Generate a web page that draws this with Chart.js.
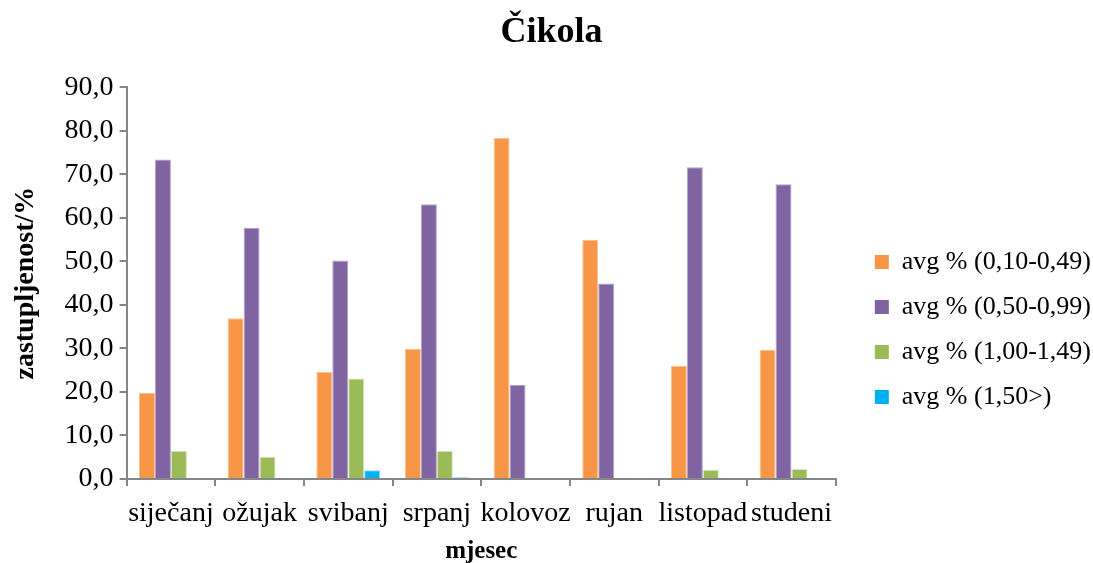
<!DOCTYPE html>
<html>
<head>
<meta charset="utf-8">
<script src="https://cdn.jsdelivr.net/npm/chart.js@4/dist/chart.umd.min.js"></script>
<style>
    html, body { margin: 0; padding: 0; background: #fff; }
    #wrap { width: 1093px; height: 563px; }
</style>
</head>
<body>
<div id="wrap"><canvas id="chartCikola"></canvas></div>
<script>
const mjeseci = ['siječanj', 'ožujak', 'svibanj', 'srpanj', 'kolovoz', 'rujan', 'listopad', 'studeni'];
const avg010_049 = [19.8, 36.9, 24.6, 29.9, 78.4, 54.9, 26.0, 29.7];
const avg050_099 = [73.4, 57.7, 50.2, 63.1, 21.6, 44.9, 71.6, 67.7];
const avg100_149 = [6.5, 5.1, 23.1, 6.5, 0, 0, 2.1, 2.3];
const avg150 = [0, 0, 2.0, 0.4, 0, 0, 0, 0];
const yTicks = [0, 10, 20, 30, 40, 50, 60, 70, 80, 90];

const font = 'Liberation Serif, Times New Roman, serif';
const gray = '#868686';

// push the legend a bit away from the plot area
const legendGap = {
    id: 'legendGap',
    afterLayout: function (chart) {
        const lg = chart.legend;
        if (!lg) return;
        const shift = chart.chartArea.right + 20 - lg.left;
        lg.left += shift;
        lg.right += shift;
    }
};

window.onload = function () {
    const ctx = document.getElementById('chartCikola').getContext('2d');
    new Chart(ctx, {
        type: 'bar',
        data: {
            labels: mjeseci,
            datasets: [
                { label: 'avg % (0,10-0,49)', data: avg010_049, backgroundColor: '#F79646', borderColor: '#FAC090', borderWidth: 1 },
                { label: 'avg % (0,50-0,99)', data: avg050_099, backgroundColor: '#8064A2', borderColor: '#B3A2C7', borderWidth: 1 },
                { label: 'avg % (1,00-1,49)', data: avg100_149, backgroundColor: '#9BBB59', borderColor: '#D7E4BD', borderWidth: 1 },
                { label: 'avg % (1,50>)', data: avg150, backgroundColor: '#00B0F0', borderColor: '#8FDCF8', borderWidth: 1 }
            ]
        },
        plugins: [legendGap],
        options: {
            responsive: true,
            maintainAspectRatio: false,
            animation: false,
            categoryPercentage: 0.72,
            barPercentage: 1.0,
            layout: { padding: { left: 4, right: 12, top: 0, bottom: 0 } },
            plugins: {
                title: {
                    display: true,
                    text: '  Čikola',
                    color: '#000',
                    font: { family: font, size: 36, weight: 'bold' },
                    padding: { top: 11, bottom: 33 }
                },
                legend: {
                    position: 'right',
                    align: 'center',
                    title: { display: true, text: ' ', font: { size: 20 }, padding: 36 },
                    labels: {
                        color: '#000',
                        font: { family: font, size: 26 },
                        boxWidth: 14,
                        boxHeight: 14,
                        padding: 19,
                        generateLabels: function (chart) {
                            return chart.data.datasets.map(function (ds, i) {
                                return { text: ds.label, fillStyle: ds.backgroundColor, strokeStyle: ds.backgroundColor, fontColor: '#000', lineWidth: 0, datasetIndex: i };
                            });
                        }
                    }
                },
                tooltip: { enabled: false }
            },
            scales: {
                x: {
                    afterFit: function (axis) { axis.height = 84; },
                    grid: { display: true, drawOnChartArea: false, drawTicks: true, tickLength: 7, color: gray, lineWidth: 2 },
                    border: { display: true, color: gray, width: 2 },
                    ticks: { color: '#000', font: { family: font, size: 28 }, padding: 11, maxRotation: 0, autoSkip: false },
                    title: { display: true, text: 'mjesec', color: '#000', font: { family: font, size: 25, weight: 'bold' }, padding: { top: 0, bottom: -4 } }
                },
                y: {
                    min: 0,
                    max: 90,
                    afterBuildTicks: function (axis) {
                        axis.ticks = yTicks.map(function (v) { return { value: v }; });
                    },
                    grid: { display: true, drawOnChartArea: false, drawTicks: true, tickLength: 7, color: gray, lineWidth: 2 },
                    border: { display: true, color: gray, width: 2 },
                    ticks: {
                        color: '#000',
                        font: { family: font, size: 28 },
                        padding: 6,
                        callback: function (v) { return v.toFixed(1).replace('.', ','); }
                    },
                    title: { display: true, text: 'zastupljenost/%', color: '#000', font: { family: font, size: 28, weight: 'bold' }, padding: { top: 5, bottom: 16 } }
                }
            }
        }
    });
}
</script>
</body>
</html>
